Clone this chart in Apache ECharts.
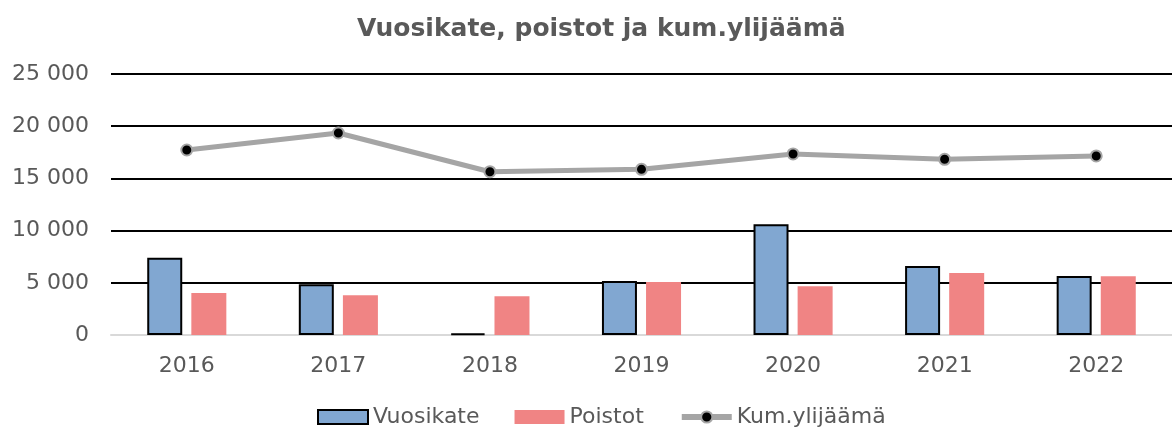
<!DOCTYPE html>
<html>
<head>
<meta charset="utf-8">
<script src="https://cdn.jsdelivr.net/npm/echarts@6/dist/echarts.min.js"></script>
<style>
  html, body { margin: 0; padding: 0; background: #fff; }
  #chart { width: 1172px; height: 429px; }
</style>
</head>
<body>
<div id="chart"></div>
<script>
  // data
  let years = ['2016', '2017', '2018', '2019', '2020', '2021', '2022'];
  let vuosikate = [7400, 4860, 150, 5170, 10600, 6610, 5650];
  let poistot = [4020, 3800, 3700, 5080, 4660, 5940, 5620];
  let kumYlijaama = [17720, 19350, 15640, 15870, 17340, 16830, 17150];

  let font = 'DejaVu Sans';
  let textColor = '#595959';

  // 25000 -> "25 000"
  function fmt(v) {
    return String(v).replace(/\B(?=(\d{3})+(?!\d))/g, ' ');
  }

  let chart = echarts.init(document.getElementById('chart'));

  let options = {
    backgroundColor: '#ffffff',
    animation: false,
    title: {
      text: 'Vuosikate, poistot ja kum.ylijäämä',
      left: 352,
      top: 12,
      textStyle: {
        fontFamily: font,
        fontWeight: 'bold',
        fontSize: 25,
        color: textColor
      }
    },
    legend: {
      top: 401,
      left: 312,
      itemWidth: 50,
      itemHeight: 14,
      itemGap: 35,
      textStyle: {
        fontFamily: font,
        fontSize: 22,
        color: textColor
      },
      data: [
        { name: 'Vuosikate', icon: 'rect' },
        { name: 'Poistot', icon: 'rect' },
        { name: 'Kum.ylijäämä', lineStyle: { width: 6, color: '#A5A5A5' } }
      ]
    },
    grid: {
      left: 111,
      top: 74,
      width: 1067,
      height: 261
    },
    xAxis: {
      type: 'category',
      data: years,
      axisTick: { show: false },
      axisLine: {
        lineStyle: { color: '#D9D9D9', width: 2 }
      },
      axisLabel: {
        margin: 20,
        fontFamily: font,
        fontSize: 22,
        color: textColor
      }
    },
    yAxis: {
      type: 'value',
      min: 0,
      max: 25000,
      interval: 5000,
      axisLine: { show: false },
      axisTick: { show: false },
      axisLabel: {
        margin: 22,
        fontFamily: font,
        fontSize: 22,
        color: textColor,
        formatter: fmt
      },
      splitLine: {
        lineStyle: {
          // first line (0) is light gray, the rest black
          color: ['#D9D9D9', '#000000', '#000000', '#000000', '#000000', '#000000'],
          width: 2
        }
      }
    },
    series: [
      {
        name: 'Vuosikate',
        type: 'bar',
        data: vuosikate,
        barWidth: 35,
        barGap: '26%',
        itemStyle: {
          color: '#81A7D1',
          borderColor: '#000000',
          borderWidth: 2
        }
      },
      {
        name: 'Poistot',
        type: 'bar',
        data: poistot,
        barWidth: 35,
        itemStyle: {
          color: '#F08484'
        }
      },
      {
        name: 'Kum.ylijäämä',
        type: 'line',
        data: kumYlijaama,
        symbol: 'circle',
        symbolSize: 11,
        z: 5,
        lineStyle: {
          color: '#A5A5A5',
          width: 5
        },
        itemStyle: {
          color: '#000000',
          borderColor: '#A5A5A5',
          borderWidth: 2
        }
      }
    ]
  };

  chart.setOption(options);
</script>
</body>
</html>
